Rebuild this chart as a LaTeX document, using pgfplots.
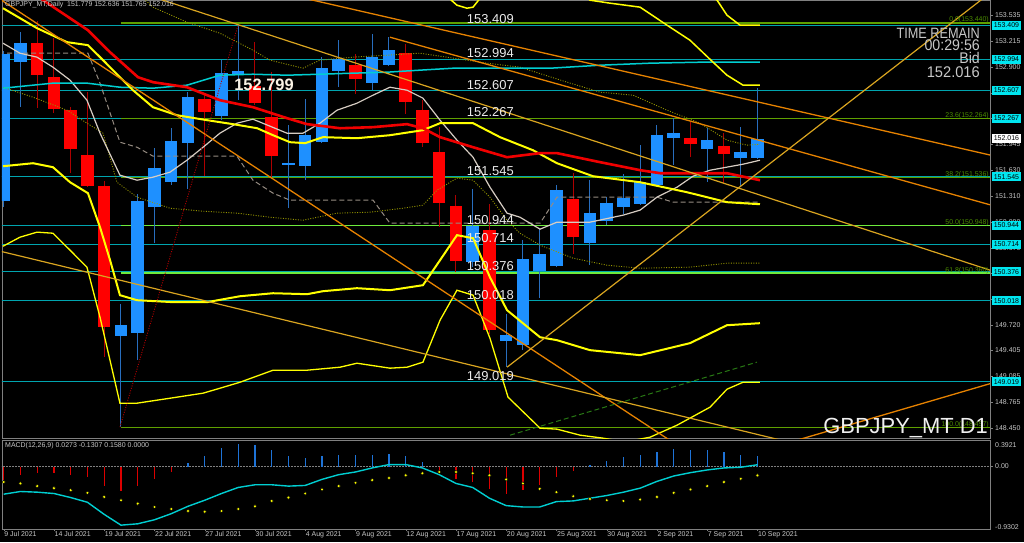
\documentclass[border=0pt]{standalone}
\usepackage{pgfplots}
\pgfplotsset{compat=1.18}
\usepackage{pgfplotstable}
\usepackage{graphicx}
\usepackage{fontspec}
\setmainfont{Liberation Sans}

\definecolor{bull}{RGB}{30,144,255}
\definecolor{bear}{RGB}{255,0,0}
\definecolor{bullwick}{RGB}{40,110,190}
\definecolor{bearwick}{RGB}{175,0,0}
\definecolor{hcyan}{RGB}{0,165,175}
\definecolor{fibgreen}{RGB}{95,160,0}
\definecolor{fiblime}{RGB}{110,235,60}
\definecolor{fibtext}{RGB}{75,140,0}
\definecolor{maRed}{RGB}{240,0,0}
\definecolor{yel}{RGB}{255,255,0}
\definecolor{orangeTL}{RGB}{230,130,0}
\definecolor{gold}{RGB}{218,165,32}
\definecolor{olivedot}{RGB}{150,150,0}
\definecolor{wline}{RGB}{215,205,195}
\definecolor{gdash}{RGB}{150,140,130}
\definecolor{macdcyan}{RGB}{0,206,209}
\definecolor{histblue}{RGB}{30,115,215}
\definecolor{histred}{RGB}{220,0,0}
\definecolor{lbl}{RGB}{200,200,200}
\definecolor{frame}{RGB}{128,128,128}
\definecolor{boxcyan}{RGB}{0,230,240}
\definecolor{gdashgreen}{RGB}{40,120,20}

\newcommand{\fs}[1]{\fontsize{#1}{#1}\selectfont}

\pgfplotsset{
  wick/.style={draw=none, error bars/.cd, y dir=both, y explicit, error mark=none,
    error bar style={draw=#1, line width=1bp}},
  body/.style={draw=none, error bars/.cd, y dir=both, y explicit, error mark=none,
    error bar style={draw=#1, line width=12.5bp}},
}

% candles: bar index, open, high, low, close
\pgfplotstableread{
x o h l c
0 151.244 153.100 151.170 153.055
1 152.960 153.330 152.400 153.194
7 149.582 149.980 148.465 149.717
8 149.623 151.340 149.290 151.244
9 151.174 151.900 150.730 151.655
10 151.482 152.147 151.440 151.983
11 151.955 152.590 151.400 152.529
13 152.295 152.980 152.240 152.829
14 152.805 153.412 152.490 152.849
17 151.690 152.180 151.167 151.710
18 151.675 152.509 151.503 152.057
19 151.975 153.021 151.960 152.891
20 152.845 153.236 152.645 152.990
22 152.700 153.310 152.610 153.020
23 152.919 153.268 152.907 153.113
28 150.497 151.400 150.437 150.940
30 149.524 149.862 149.204 149.603
31 149.480 150.764 149.410 150.539
32 150.386 150.908 150.053 150.592
33 150.448 151.450 150.437 151.388
35 150.731 151.503 150.456 151.105
36 151.002 151.300 150.949 151.228
37 151.174 151.586 151.093 151.290
38 151.207 151.934 151.195 151.482
39 151.441 152.180 151.420 152.057
40 152.029 152.275 151.688 152.080
42 151.885 152.147 151.482 151.996
44 151.774 152.160 151.420 151.848
45 151.779 152.636 151.765 152.016
}\bulltab

\pgfplotstableread{
x o h l c
2 153.199 153.465 152.390 152.796
3 152.775 153.250 152.330 152.386
4 152.365 152.400 151.590 151.885
5 151.810 152.590 151.420 151.433
6 151.433 151.500 149.330 149.696
12 152.504 152.560 151.550 152.344
15 152.661 153.206 152.430 152.455
16 152.283 152.837 151.544 151.802
21 152.928 153.063 152.562 152.755
24 153.076 153.186 152.324 152.467
25 152.374 152.488 151.913 151.962
26 151.852 152.160 150.928 151.228
27 151.183 151.327 150.374 150.506
29 150.887 151.210 149.615 149.656
34 151.278 151.586 150.600 150.805
41 152.029 152.220 151.790 151.946
43 151.925 152.086 151.470 151.823
}\beartab

% MACD histogram
\pgfplotstableread{
x v
11 0.06
12 0.16
13 0.27
14 0.33
15 0.32
16 0.24
17 0.16
18 0.13
19 0.16
20 0.17
21 0.17
22 0.17
23 0.19
24 0.15
25 0.07
35 0.02
36 0.08
37 0.14
38 0.17
39 0.22
40 0.26
41 0.25
42 0.24
43 0.21
44 0.17
45 0.158
}\histpos

\pgfplotstableread{
x v
0 -0.20
1 -0.13
2 -0.10
3 -0.10
4 -0.12
5 -0.15
6 -0.29
7 -0.36
8 -0.29
9 -0.19
10 -0.08
26 -0.06
27 -0.18
28 -0.23
29 -0.34
30 -0.40
31 -0.35
32 -0.28
33 -0.15
34 -0.07
}\histneg

\pgfplotstableread{
x m s
0 -0.41 -0.23
1 -0.37 -0.25
2 -0.38 -0.29
3 -0.40 -0.32
4 -0.46 -0.35
5 -0.53 -0.39
6 -0.71 -0.45
7 -0.87 -0.50
8 -0.85 -0.55
9 -0.79 -0.60
10 -0.70 -0.63
11 -0.59 -0.66
12 -0.50 -0.67
13 -0.40 -0.66
14 -0.31 -0.63
15 -0.27 -0.59
16 -0.27 -0.51
17 -0.29 -0.46
18 -0.28 -0.40
19 -0.19 -0.34
20 -0.12 -0.29
21 -0.08 -0.24
22 -0.02 -0.20
23 0.03 -0.17
24 0.03 -0.13
25 -0.02 -0.10
26 -0.12 -0.08
27 -0.25 -0.08
28 -0.31 -0.10
29 -0.47 -0.13
30 -0.58 -0.19
31 -0.60 -0.25
32 -0.60 -0.33
33 -0.52 -0.38
34 -0.51 -0.44
35 -0.47 -0.48
36 -0.43 -0.50
37 -0.38 -0.51
38 -0.32 -0.49
39 -0.22 -0.45
40 -0.14 -0.39
41 -0.09 -0.34
42 -0.05 -0.29
43 -0.02 -0.23
44 -0.01 -0.18
45 0.0273 -0.1307
}\macdtab

\begin{document}
\begin{tikzpicture}[x=1bp,y=1bp]
\fill[black] (0,0) rectangle (1024,542);

% ---------------- main price panel ----------------
\begin{axis}[
  at={(2bp,104bp)}, anchor=south west,
  width=988bp, height=438bp, scale only axis,
  xmin=-0.1015, xmax=58.884,
  ymin=148.3256, ymax=153.7197,
  axis line style={draw=frame},
  xtick=\empty, ytick=\empty,
]
% horizontal levels
\pgfplotsinvokeforeach{153.409,152.994,152.607,152.267,151.545,150.944,150.714,150.376,150.018,149.019}{
  \addplot[hcyan, line width=1bp] coordinates {(-0.2,#1) (59,#1)};
}
\pgfplotsinvokeforeach{153.440,152.264,151.536,148.457}{
  \addplot[fibgreen, line width=1.2bp] coordinates {(7.0,#1) (59,#1)};
}
\pgfplotsinvokeforeach{150.948,150.360}{
  \addplot[fiblime, line width=1.1bp] coordinates {(7.0,#1) (59,#1)};
}

% candles
\addplot[wick=bullwick] table[x=x, y expr={(\thisrow{h}+\thisrow{l})/2}, y error expr={(\thisrow{h}-\thisrow{l})/2}] {\bulltab};
\addplot[wick=bearwick] table[x=x, y expr={(\thisrow{h}+\thisrow{l})/2}, y error expr={(\thisrow{h}-\thisrow{l})/2}] {\beartab};
\addplot[body=bull] table[x=x, y expr={(\thisrow{o}+\thisrow{c})/2}, y error expr={max(abs(\thisrow{c}-\thisrow{o})/2,0.006)}] {\bulltab};
\addplot[body=bear] table[x=x, y expr={(\thisrow{o}+\thisrow{c})/2}, y error expr={max(abs(\thisrow{c}-\thisrow{o})/2,0.006)}] {\beartab};

% envelope / band lines
\addplot[olivedot, line width=0.9bp, dash pattern=on 1bp off 1.5bp] coordinates {
(-0.04,152.648) (1.75,152.525) (3.78,152.365) (4.97,152.205) (5.93,152.082) (6.76,151.478)
(7.96,151.294) (9.93,151.158) (11.90,151.121) (13.93,151.097) (15.90,151.047) (17.87,151.010)
(19.90,151.097) (21.87,151.109) (23.84,151.158) (25.03,151.195) (25.87,151.380) (27.06,151.528)
(28.02,151.503) (29.03,151.294) (30.05,151.010) (30.82,150.850) (32.02,150.703) (33.99,150.543)
(36.02,150.456) (37.99,150.419) (40.97,150.432) (43.18,150.481) (45.15,150.481)};
\addplot[olivedot, line width=0.9bp, dash pattern=on 1bp off 1.5bp] coordinates {
(8.15,153.780) (8.91,153.634) (10.94,153.449) (12.91,153.313) (14.88,153.104) (15.90,152.981)
(17.87,152.882) (18.88,152.981) (20.85,153.018) (22.88,153.042) (24.85,153.067) (26.83,153.006)
(28.85,152.944) (30.82,152.895) (33.63,152.710) (35.60,152.587) (37.57,152.550) (39.60,152.365)
(41.57,152.205) (43.18,151.996) (44.38,151.934) (45.15,151.946)};
\addplot[gdash, line width=1bp, dash pattern=on 5bp off 3bp] coordinates {
(0.20,153.067) (5.03,153.067) (5.75,152.698) (6.94,151.971) (7.96,151.909) (8.91,151.799)
(13.93,151.799) (14.88,151.503) (16.08,151.343) (17.09,151.257) (22.05,151.257) (23.06,150.973)
(32.02,150.973) (33.03,151.294) (39.00,151.294) (39.96,151.232) (45.15,151.232)};
\addplot[wline, line width=1.2bp] coordinates {
(-0.04,153.190) (0.97,153.067) (1.99,153.018) (2.94,152.895) (3.96,152.735) (4.97,152.488)
(5.75,152.082) (6.94,151.565) (7.96,151.503) (8.91,151.540) (9.93,151.602) (10.94,151.749)
(11.91,151.910) (12.91,152.082) (13.93,152.205) (14.88,152.254) (15.90,152.168) (16.91,152.082)
(17.87,152.082) (18.88,152.205) (19.90,152.365) (21.09,152.451) (22.05,152.550) (23.06,152.648)
(24.08,152.611) (25.03,152.513) (26.05,152.242) (27.06,151.996) (28.02,151.786) (29.03,151.417)
(30.05,151.097) (30.82,151.047) (32.02,150.900) (33.03,150.986) (35.00,150.986) (36.97,151.072)
(37.99,151.134) (39.00,151.294) (40.20,151.417) (41.15,151.552) (42.17,151.626) (44.14,151.700)
(45.15,151.749)};
\addplot[macdcyan, line width=1.5bp] coordinates {
(-0.04,152.636) (2.94,152.698) (4.97,152.698) (6.94,152.648) (8.91,152.636) (10.94,152.673)
(12.91,152.796) (14.88,152.808) (16.91,152.796) (18.88,152.808) (20.85,152.821) (22.88,152.833)
(24.85,152.858) (26.83,152.882) (29.63,152.882) (32.62,152.882) (35.60,152.919) (38.59,152.944)
(41.57,152.956) (45.15,152.956)};
\addplot[yel, line width=2bp] coordinates {
(-0.04,153.621) (1.99,153.375) (3.78,153.203) (5.03,153.166) (5.75,153.018) (7.72,152.611)
(8.91,152.402) (10.35,152.303) (12.14,152.242) (13.69,152.193) (15.13,152.143) (16.08,152.057)
(17.09,151.971) (18.00,151.959) (19.06,152.033) (21.09,152.020) (23.06,152.057) (25.03,152.119)
(26.05,152.205) (28.02,152.205) (29.63,152.033) (31.60,151.872) (33.03,151.712) (35.18,151.552)
(37.99,151.478) (40.79,151.355) (43.18,151.232) (45.15,151.207)};
\addplot[yel, line width=2bp] coordinates {
(-0.04,151.675) (1.75,151.712) (2.94,151.663) (3.96,151.478) (5.03,151.343) (5.75,150.924)
(6.35,150.518) (6.94,150.087) (7.96,150.025) (10.11,150.001) (12.14,150.001) (14.11,150.074)
(16.08,150.111) (18.11,150.099) (19.06,150.136) (21.09,150.173) (23.06,150.148) (25.03,150.210)
(26.05,150.518) (27.06,150.826) (28.02,150.789) (29.03,150.308) (30.05,149.902) (32.02,149.569)
(33.03,149.533) (35.00,149.410) (37.99,149.348) (40.97,149.496) (43.18,149.717) (45.15,149.742)};
\addplot[yel, line width=1.3bp] coordinates {
(-0.04,150.690) (0.97,150.801) (1.99,150.863) (2.94,150.850) (3.96,150.641) (4.97,150.432)
(5.75,149.816) (6.94,148.757) (7.96,148.757) (9.93,148.818) (11.90,148.880) (12.91,148.941)
(14.11,149.015) (16.08,149.163) (18.11,149.163) (20.08,149.200) (21.09,149.249) (23.06,149.188)
(24.08,149.200) (25.03,149.262) (26.05,149.779) (27.06,150.148) (28.02,150.087) (29.03,149.557)
(30.11,148.831) (32.02,148.449) (33.03,148.437) (34.41,148.363) (35.78,148.326) (37.10,148.280)
(38.59,148.338) (40.20,148.486) (42.17,148.708) (43.18,148.929) (44.14,149.015) (45.15,149.015)};
\addplot[yel, line width=1.5bp] coordinates {
(26.05,153.843) (27.06,153.658) (27.66,153.621) (28.02,153.634) (28.73,153.818) (34.41,153.818)
(35.00,153.720) (36.20,153.683) (37.99,153.634) (39.60,153.412) (40.97,153.227) (42.35,152.956)
(43.18,152.796) (44.14,152.673) (45.15,152.673)};
\addplot[yel, line width=1.5bp] coordinates {
(41.57,153.843) (42.59,153.720) (43.18,153.535) (43.96,153.412) (45.15,153.412)};
\addplot[maRed, line width=2.6bp] coordinates {
(0,154.100) (2.35,153.720) (5.03,153.350) (6.35,153.079) (8.02,152.771) (8.91,152.710)
(10.94,152.648) (12.91,152.488) (14.88,152.402) (16.91,152.267) (18.11,152.193) (20.08,152.143)
(22.05,152.156) (24.08,152.193) (25.03,152.143) (26.05,152.033) (28.02,151.909) (30.05,151.786)
(32.02,151.836) (33.03,151.836) (35.60,151.725) (38.00,151.626) (39.20,151.589) (43.18,151.589)
(45.15,151.503)};

% trend lines
\addplot[orangeTL, line width=1.3bp] coordinates {(-0.22,153.732) (41.57,148.055)};
\addplot[orangeTL, line width=1.3bp] coordinates {(14.70,153.897) (59.18,151.799)};
\addplot[orangeTL, line width=1.3bp] coordinates {(23.06,153.264) (59.18,151.183)};
\addplot[orangeTL, line width=1.3bp] coordinates {(46.35,148.240) (59.18,149.015)};
\addplot[gold, line width=1.2bp] coordinates {(5.75,153.973) (59.18,150.375)};
\addplot[gold, line width=1.2bp] coordinates {(-0.22,150.629) (47.54,148.245)};
\addplot[gold, line width=1.2bp] coordinates {(30.05,149.200) (59.18,153.855)};
\addplot[gdashgreen, line width=1bp, dash pattern=on 5bp off 3bp] coordinates {(30.23,148.363) (44.97,149.262)};
\addplot[bearwick, line width=0.9bp, dash pattern=on 1bp off 1.5bp] coordinates {(6.94,148.461) (13.99,153.412)};
\end{axis}

% ---------------- MACD panel ----------------
\begin{axis}[
  at={(2bp,13bp)}, anchor=south west,
  width=988bp, height=89bp, scale only axis,
  xmin=-0.1015, xmax=58.884,
  ymin=-0.9302, ymax=0.3921,
  axis line style={draw=frame},
  ytick=\empty,
  xtick={0,3,...,45},
  xticklabels={9 Jul 2021,14 Jul 2021,19 Jul 2021,22 Jul 2021,27 Jul 2021,30 Jul 2021,4 Aug 2021,9 Aug 2021,12 Aug 2021,17 Aug 2021,20 Aug 2021,25 Aug 2021,30 Aug 2021,2 Sep 2021,7 Sep 2021,10 Sep 2021},
  xtick pos=lower, tick align=outside, major tick length=2bp,
  tick style={draw=frame},
  xticklabel style={anchor=north west, inner sep=0pt, xshift=0.5bp, yshift=-0.5bp, font=\fs{7}, text=lbl},
]
\addplot[frame, line width=0.8bp, dash pattern=on 1.5bp off 1.5bp] coordinates {(-0.2,0) (59,0)};
\addplot[ycomb, histblue, line width=1.1bp] table[x=x, y=v] {\histpos};
\addplot[ycomb, histred, line width=1.1bp] table[x=x, y=v] {\histneg};
\addplot[macdcyan, line width=1.4bp] table[x=x, y=m] {\macdtab};
\addplot[only marks, mark=*, mark size=1.7bp, mark options={draw=none, fill=yel}] table[x=x, y=s] {\macdtab};
\end{axis}

% ---------------- texts and price scale ----------------
\node[anchor=west, inner sep=0pt, text=lbl, font=\fs{7}] at (5,538) {GBPJPY\_MT,Daily\ \ 151.779 152.636 151.765 152.016};
\node[anchor=west, inner sep=0pt, text=lbl, font=\fs{7}] at (5,97) {MACD(12,26,9) 0.0273 -0.1307 0.1580 0.0000};

% right price scale
\foreach \p in {153.535,153.215,152.900,152.580,152.265,151.945,151.630,151.310,150.990,150.670,150.355,150.035,149.720,149.405,149.085,148.765,148.450}{
  \draw[frame] (990,{542-(153.7197-\p)*81.2}) -- (993,{542-(153.7197-\p)*81.2});
  \node[anchor=west, inner sep=0pt, text=lbl, font=\fs{7}] at (995,{542-(153.7197-\p)*81.2}) {\p};
}
\foreach \p in {153.409,152.994,152.607,152.267,151.545,150.944,150.714,150.376,150.018,149.019}{
  \node[anchor=west, fill=boxcyan, text=black, inner xsep=1.6bp, inner ysep=0pt, minimum height=9bp, font=\fs{7}] at (992,{542-(153.7197-\p)*81.2}) {\p};
}
\node[anchor=west, fill=white, text=black, inner xsep=1.6bp, inner ysep=0pt, minimum height=9bp, font=\fs{7}] at (992,{542-(153.7197-152.016)*81.2}) {152.016};

% MACD scale
\draw[frame] (990,76) -- (993,76);
\node[anchor=west, inner sep=0pt, text=lbl, font=\fs{7}] at (995,97) {0.3921};
\node[anchor=west, inner sep=0pt, text=lbl, font=\fs{7}] at (995,76) {0.00};
\node[anchor=west, inner sep=0pt, text=lbl, font=\fs{7}] at (995,15) {-0.9302};

% level labels in chart
\foreach \p in {153.409,152.994,152.607,152.267,151.545,150.944,150.714,150.376,150.018,149.019}{
  \node[anchor=base east, inner sep=0pt, text=white!92!black, font=\fs{13}] at (514,{543.5-(153.7197-\p)*81.2}) {\p};
}
% fibo labels
\foreach \p/\t in {153.440/0.0,152.264/23.6,151.536/38.2,150.948/50.0,150.360/61.8,148.457/100.0}{
  \node[anchor=base east, inner sep=0pt, text=fibtext, font=\fs{7}] at (989,{543-(153.7197-\p)*81.2}) {\t(\p)};
}

\node[anchor=center, inner sep=0pt, text={rgb,255:red,250;green,242;blue,228}, font=\fs{16.5}\bfseries] at (264,457) {152.799};

\node[anchor=base east, inner sep=0pt, text=lbl] at (980,504) {\scalebox{0.85}[1]{\fs{15}TIME REMAIN}};
\node[anchor=base east, inner sep=0pt, text=lbl] at (980,492) {\scalebox{0.92}[1]{\fs{15.5}00:29:56}};
\node[anchor=base east, inner sep=0pt, text=lbl] at (980,479) {\scalebox{0.92}[1]{\fs{15.5}Bid}};
\node[anchor=base east, inner sep=0pt, text=lbl] at (980,465) {\scalebox{0.95}[1]{\fs{15.5}152.016}};

\node[anchor=base east, inner sep=0pt, text=white!94!black, font=\fs{22}] at (988,109) {GBPJPY\_MT D1};
\end{tikzpicture}
\end{document}
